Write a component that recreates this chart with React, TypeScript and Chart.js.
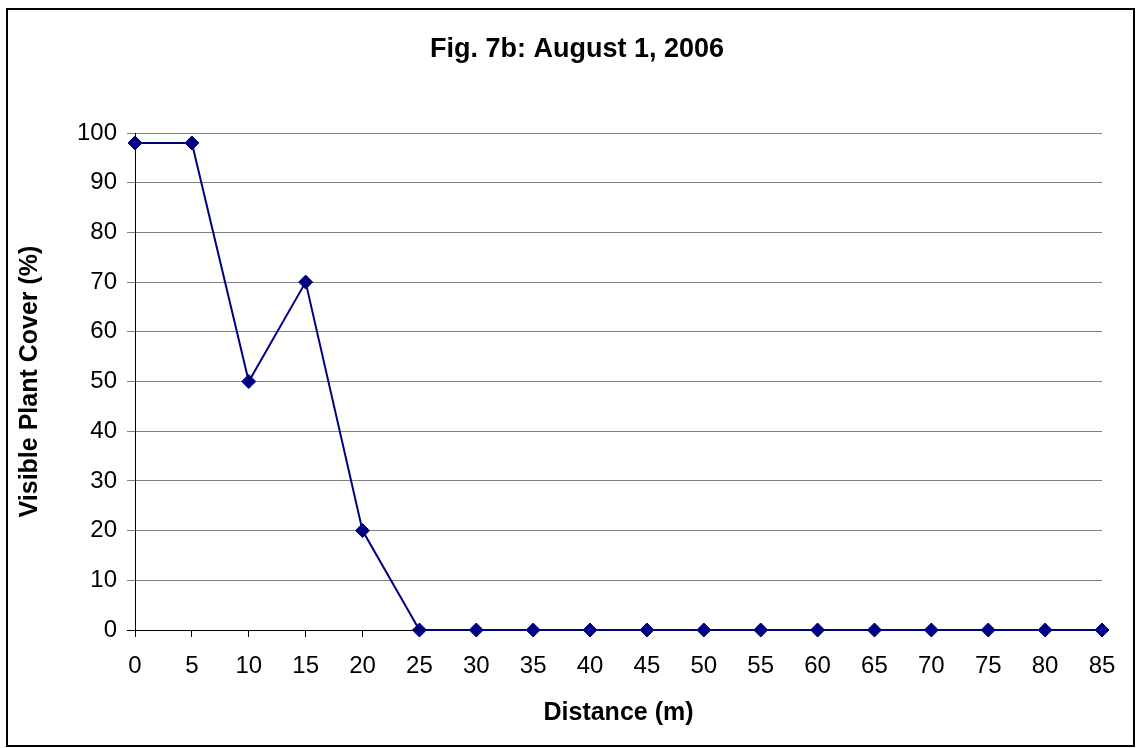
import React, { useEffect, useRef } from "react";
import { Chart, registerables } from "chart.js";

Chart.register(...registerables);

const distances: string[] = ["0", "5", "10", "15", "20", "25", "30", "35", "40", "45", "50", "55", "60", "65", "70", "75", "80", "85"];
const plantCover: number[] = [98, 98, 50, 70, 20, 0, 0, 0, 0, 0, 0, 0, 0, 0, 0, 0, 0, 0];
const titleText = "Fig. 7b: August 1, 2006";
const xTitle = "Distance (m)";
const yTitle = "Visible Plant Cover (%)";

const FONT = "'Liberation Sans', Arial, sans-serif";

const framePlugin = {
  id: "frameAndTitle",
  beforeDraw(chart: any) {
    const ctx = chart.ctx;
    ctx.save();
    ctx.fillStyle = "#ffffff";
    ctx.fillRect(0, 0, chart.width, chart.height);
    ctx.restore();
  },
  afterDraw(chart: any) {
    const ctx = chart.ctx;
    ctx.save();
    ctx.strokeStyle = "#000000";
    ctx.lineWidth = 2;
    ctx.strokeRect(7, 9, 1127, 737);
    ctx.fillStyle = "#000000";
    ctx.font = `bold 27px ${FONT}`;
    ctx.textAlign = "center";
    ctx.textBaseline = "middle";
    ctx.fillText(titleText, 577, 49.5);
    ctx.restore();
  },
};

export default function App() {
  const ref = useRef<HTMLCanvasElement | null>(null);

  useEffect(() => {
    if (!ref.current) return;
    const chart = new Chart(ref.current, {
      type: "line",
      data: {
        labels: distances,
        datasets: [
          {
            data: plantCover,
            borderColor: "#000080",
            backgroundColor: "#000080",
            borderWidth: 2,
            pointStyle: "rectRot",
            pointRadius: 7,
            pointBorderWidth: 1,
            pointBackgroundColor: "#000080",
            pointBorderColor: "#000080",
            tension: 0,
            clip: false as any,
          },
        ],
      },
      options: {
        responsive: false,
        animation: false,
        layout: { padding: { left: 8, right: 36, top: 133, bottom: 2 } },
        plugins: {
          legend: { display: false },
          tooltip: { enabled: false },
          title: { display: false },
        },
        scales: {
          x: {
            type: "category",
            offset: false,
            afterFit(scale: any) {
              scale.height = 116;
            },
            grid: {
              drawOnChartArea: false,
              drawTicks: true,
              tickLength: 7,
              color: "#000000",
            },
            border: { display: true, color: "#000000", width: 1 },
            ticks: {
              color: "#000000",
              font: { family: FONT, size: 24, lineHeight: 1.2 },
              padding: 15,
              maxRotation: 0,
              autoSkip: false,
            },
            title: {
              display: true,
              text: xTitle,
              color: "#000000",
              font: { family: FONT, size: 25, weight: "bold", lineHeight: 1.2 },
              padding: { top: 0, bottom: 18 },
            },
          },
          y: {
            type: "linear",
            min: 0,
            max: 100,
            afterFit(scale: any) {
              scale.width = 127;
            },
            grid: {
              drawTicks: true,
              tickLength: 8,
              color: (c: any) => (c.tick && c.tick.value === 0 ? "#000000" : "#808080"),
            },
            border: { display: true, color: "#000000", width: 1 },
            ticks: {
              stepSize: 10,
              color: "#000000",
              font: { family: FONT, size: 24, lineHeight: 1.2 },
              padding: 10,
            },
            title: {
              display: true,
              text: yTitle,
              color: "#000000",
              font: { family: FONT, size: 25, weight: "bold", lineHeight: 1.2 },
              padding: { top: 7, bottom: 0 },
            },
          },
        },
      },
      plugins: [framePlugin],
    });
    return () => chart.destroy();
  }, []);

  return (
    <div style={{ position: "absolute", left: 0, top: 0, width: 1138, height: 748, background: "#fff" }}>
      <canvas ref={ref} width={1138} height={748} style={{ display: "block" }} />
    </div>
  );
}
